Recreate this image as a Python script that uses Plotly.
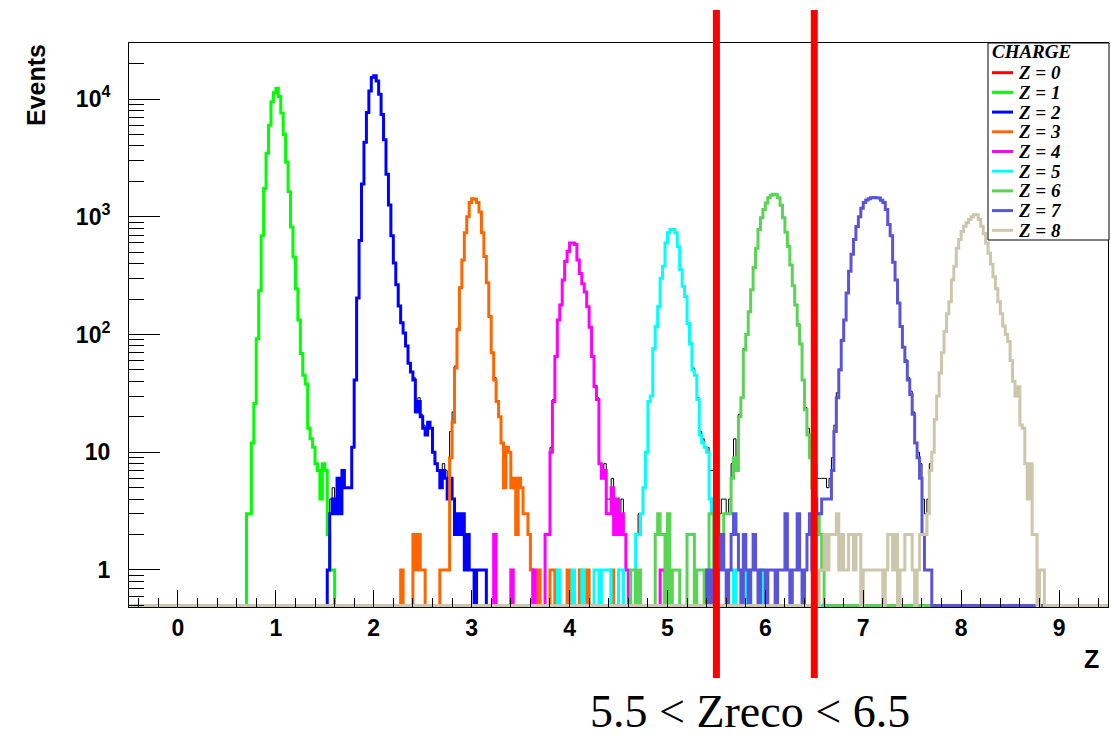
import numpy as np
import plotly.graph_objects as go

# ---- binning of the reconstructed-charge histograms ----
X_MIN, X_MAX, BIN_W = -0.5, 9.5, 0.025
N_BINS = int(round((X_MAX - X_MIN) / BIN_W))

# ---- legend / colours ----
charge_labels = ["Z = 0", "Z = 1", "Z = 2", "Z = 3", "Z = 4", "Z = 5", "Z = 6", "Z = 7", "Z = 8"]
charge_colors = ["#ff0000", "#00ff00", "#0000ff", "#ff6600", "#ff00ff",
                 "#00ffff", "#59d454", "#5954d8", "#ccc6aa"]
legend_title = "CHARGE"

# ---- bin contents: (low edge of first bin, counts per bin) ----
z0_segments = []
z1_segments = [
    (0.700, [3, 3, 12, 26, 92, 235, 690, 1740, 3460, 6000, 9500, 11300, 12300, 10500,
             7600, 5000, 2900, 1630, 820, 455, 245, 133, 69, 45, 38, 16, 13, 11, 8, 7,
             4, 8, 7, 2, 1, 1]),
]
z2_segments = [
    (1.525, [1, 3, 4, 3, 6, 3, 7, 5, 5, 5, 11, 41, 204, 630, 1900, 4300, 7700, 11700,
             15200, 15800, 14200, 11000, 7400, 4500, 2300, 1260, 690, 405, 265, 175,
             126, 103, 80, 57, 48, 41, 22, 27, 20, 16, 14, 18, 16, 10, 8, 7, 5, 7, 6,
             4, 6, 4, 2, 3, 2, 3, 1, 2, 1, 1, 0, 1, 1, 1, 1]),
]
z3_segments = [
    (2.275, [1, 0, 0, 0, 0, 2, 1, 2, 1, 1]),
    (2.675, [1, 1, 1, 1, 9, 18, 52, 110, 250, 430, 730, 1000, 1320, 1420, 1410, 1320,
             1100, 730, 460, 275, 142, 70, 41, 27, 20, 12, 5, 11, 10, 5, 6, 2, 6, 5, 3,
             3, 2, 1]),
    (3.675, [1]), (3.800, [1, 1]), (3.975, [1]), (4.100, [1]), (4.175, [1]), (4.425, [1]),
]
z4_segments = [
    (3.225, [2]), (3.400, [1]), (3.625, [1]),
    (3.750, [2, 2, 10, 27, 65, 133, 178, 290, 417, 506, 600, 600, 580, 430, 330, 270,
             230, 172, 115, 65, 36, 28, 8, 6, 7, 3, 3, 5, 2, 4, 2, 3, 2, 1]),
    (4.925, [1, 1]),
]
z5_segments = [
    (3.875, [1]), (4.025, [1]), (4.125, [1]), (4.250, [1, 1, 0, 1, 1, 1, 1]), (4.500, [1, 1]),
    (4.675, [2, 2, 3, 5, 10, 27, 30, 76, 117, 172, 300, 380, 600, 730, 780, 780, 730,
             560, 355, 257, 210, 124, 83, 50, 45, 28, 14, 12, 11, 10, 4, 3]),
    (5.675, [1]), (5.800, [1, 1]), (5.950, [1]),
]
z6_segments = [
    (4.625, [1, 1, 0, 1]),
    (4.875, [2, 3, 2, 2, 0, 3, 0, 1, 1, 1]),
    (5.200, [2, 2, 2, 0, 1, 1, 1, 0, 0, 3, 3, 1, 3, 2, 2, 3]),
    (5.600, [3, 3, 6, 9, 7, 20, 29, 74, 100, 156, 240, 370, 540, 780, 980, 1150, 1310,
             1450, 1520, 1550, 1540, 1450, 1250, 980, 740, 560, 390, 260, 178, 120, 83,
             41, 23, 14, 9, 5, 4, 3, 2, 1]),
]
z7_segments = [
    (5.400, [1, 0, 1, 0, 1, 1, 2, 1, 0, 1, 2, 3, 2, 1, 0, 2, 1, 0, 1, 2, 1, 0, 1, 1, 0,
             1, 1, 1, 0, 1, 1, 1, 3, 1, 0, 1, 1, 3, 1, 0, 1, 2, 3, 1, 4, 3]),
    (6.550, [3, 4, 4, 4, 4, 7, 15, 29, 50, 89, 133, 225, 345, 480, 640, 825, 1000, 1180,
             1320, 1390, 1420, 1450, 1460, 1450, 1440, 1380, 1320, 1150, 860, 690, 410,
             290, 185, 117, 78, 59, 41, 31, 21, 12, 9, 6, 2, 1, 1, 1]),
]
z8_segments = [
    (6.550, [1, 1, 2, 1, 2, 2, 2, 3, 1, 2, 1, 1, 2, 2, 1, 2, 2, 0, 1, 1, 1, 1, 1, 1, 1,
             1, 0, 1, 2, 2, 1, 2, 0, 1, 1, 2, 2, 2, 1, 0, 1, 2, 2]),
    (7.625, [2, 3, 7, 10, 19, 30, 47, 70, 106, 150, 190, 290, 380, 540, 640, 750, 830,
             890, 950, 1000, 1040, 1040, 950, 830, 720, 600, 490, 395, 310, 245, 190,
             150, 118, 100, 87, 60, 40, 30, 36, 17, 16, 8, 4, 8, 2, 2, 0, 1, 1]),
]
charge_segments = [z0_segments, z1_segments, z2_segments, z3_segments, z4_segments,
                   z5_segments, z6_segments, z7_segments, z8_segments]

# ---- axis ranges ----
Y_LOG_MIN, Y_LOG_MAX = -0.3144, 4.4758
x_tick_vals = list(range(10))
y_tick_vals = [1, 10, 100, 1000, 10000]
y_tick_text = ["1", "10", "10<sup>2</sup>", "10<sup>3</sup>", "10<sup>4</sup>"]

# ---- page geometry (pixels) ----
FIG_W, FIG_H = 1111, 738
PLOT_L, PLOT_R, PLOT_T, PLOT_B = 129, 1108, 43, 607


def px_x(x):
    return (x - PLOT_L) / (PLOT_R - PLOT_L)


def px_y(y):
    return (PLOT_B - y) / (PLOT_B - PLOT_T)


def fill_bins(segments):
    counts = np.zeros(N_BINS)
    for low_edge, values in segments:
        i0 = int(round((low_edge - X_MIN) / BIN_W))
        counts[i0:i0 + len(values)] = values
    return counts


# empty bins sit on the floor of the log axis
floor_val = 10 ** (Y_LOG_MIN + 0.012)
edges = X_MIN + BIN_W * np.arange(N_BINS + 1)


def step_y(counts):
    shown = np.where(counts > 0, counts, floor_val)
    return np.append(shown, shown[-1])


hists = [fill_bins(s) for s in charge_segments]
total = np.sum(hists, axis=0)

fig = go.Figure()

# sum of all charges, thin black outline underneath
fig.add_trace(go.Scatter(x=edges, y=step_y(total), mode="lines", line_shape="hv",
                         line=dict(color="black", width=1), showlegend=False,
                         name="all", hoverinfo="skip"))

for label, color, counts in zip(charge_labels, charge_colors, hists):
    if counts.sum() == 0:
        continue
    fig.add_trace(go.Scatter(x=edges, y=step_y(counts), mode="lines", line_shape="hv",
                             line=dict(color=color, width=3), name=label,
                             showlegend=False))

# selection window on the reconstructed charge
for zcut in (5.5, 6.5):
    fig.add_shape(type="line", xref="x", yref="paper", x0=zcut, x1=zcut,
                  y0=px_y(678), y1=px_y(10), line=dict(color="#ff0000", width=7),
                  layer="above")

# ---- ROOT-style legend box ----
serif = "Liberation Serif, Times New Roman, serif"
sans = "Liberation Sans, Arial, sans-serif"
annotations = []
fig.add_shape(type="rect", xref="paper", yref="paper",
              x0=px_x(988), x1=px_x(1109), y0=px_y(240), y1=px_y(43),
              fillcolor="white", line=dict(color="black", width=1), layer="above")
annotations.append(dict(text="<b><i>" + legend_title + "</i></b>", xref="paper", yref="paper",
                        x=px_x(990), y=px_y(51.5), xanchor="left", yanchor="middle",
                        showarrow=False, font=dict(family=serif, size=19, color="black")))
for i, (label, color) in enumerate(zip(charge_labels, charge_colors)):
    yy = px_y(72.7 + 19.7 * i)
    fig.add_shape(type="line", xref="paper", yref="paper", x0=px_x(992), x1=px_x(1013),
                  y0=yy, y1=yy, line=dict(color=color, width=3), layer="above")
    annotations.append(dict(text="<b><i>" + label + "</i></b>", xref="paper", yref="paper",
                            x=px_x(1016), y=yy, xanchor="left", yanchor="middle",
                            showarrow=False, font=dict(family=serif, size=19, color="black")))

annotations += [
    dict(text="<b>Events</b>", xref="paper", yref="paper",
         x=px_x(36), y=px_y(42), xanchor="center", yanchor="top", textangle=-90,
         showarrow=False, font=dict(family=sans, size=25, color="black")),
    dict(text="<b>Z</b>", xref="paper", yref="paper",
         x=px_x(1101), y=px_y(659), xanchor="right", yanchor="middle",
         showarrow=False, font=dict(family=sans, size=25, color="black")),
    dict(text="5.5 &lt; Zreco &lt; 6.5", xref="paper", yref="paper",
         x=px_x(750), y=px_y(711), xanchor="center", yanchor="middle",
         showarrow=False, font=dict(family=serif, size=46, color="black")),
]

tick_font = dict(family=sans, size=23, color="black", weight="bold")

fig.update_layout(
    width=FIG_W, height=FIG_H,
    margin=dict(l=PLOT_L, r=FIG_W - PLOT_R, t=PLOT_T, b=FIG_H - PLOT_B),
    paper_bgcolor="white", plot_bgcolor="white",
    showlegend=False,
    xaxis=dict(
        range=[X_MIN, X_MAX], showgrid=False, zeroline=False,
        showline=True, linecolor="black", linewidth=1, mirror=True,
        ticks="inside", ticklen=17, tickwidth=1, tickcolor="black",
        tickmode="array", tickvals=x_tick_vals, tickfont=tick_font,
        ticklabelstandoff=0,
        minor=dict(ticks="inside", ticklen=9, tickwidth=1, tickcolor="black",
                   dtick=0.2, tick0=0, showgrid=False),
    ),
    yaxis=dict(
        type="log", range=[Y_LOG_MIN, Y_LOG_MAX], showgrid=False, zeroline=False,
        showline=True, linecolor="black", linewidth=1, mirror=True,
        ticks="inside", ticklen=31, tickwidth=1, tickcolor="black",
        tickmode="array", tickvals=y_tick_vals, ticktext=y_tick_text,
        tickfont=tick_font, ticklabelstandoff=13,
        minor=dict(ticks="inside", ticklen=15, tickwidth=1, tickcolor="black",
                   tickmode="array",
                   tickvals=[m * 10 ** d for d in range(-1, 5) for m in range(2, 10)
                             if 0.5 <= m * 10 ** d <= 30000],
                   showgrid=False),
    ),
    annotations=annotations,
)

fig.write_html("out.html")
